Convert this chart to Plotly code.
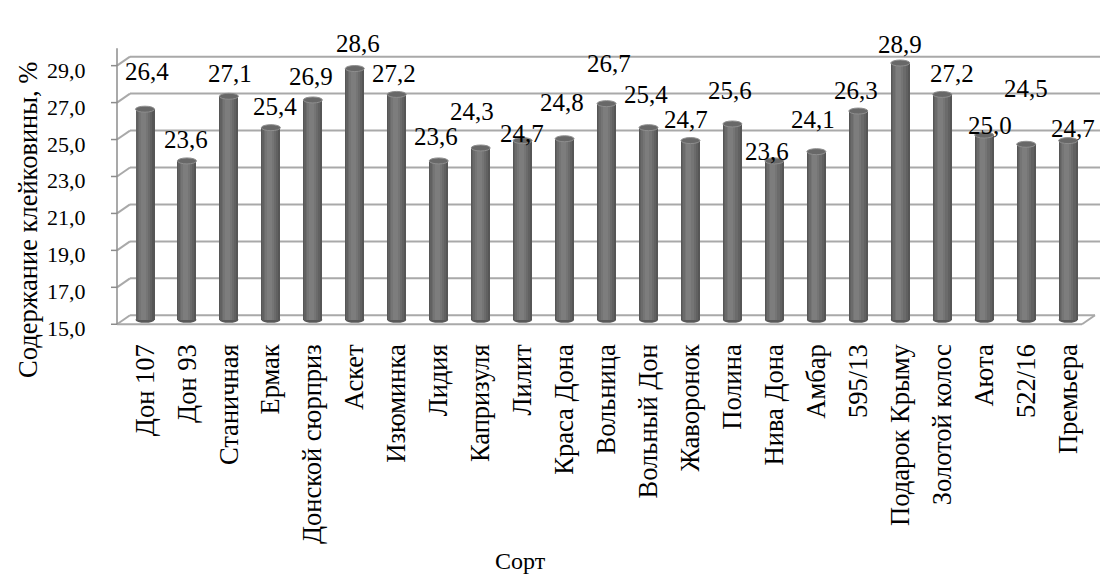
import plotly.graph_objects as go

# Gluten content by wheat variety
categories = [
    "Дон 107", "Дон 93", "Станичная", "Ермак", "Донской сюрприз", "Аскет",
    "Изюминка", "Лидия", "Капризуля", "Лилит", "Краса Дона", "Вольница",
    "Вольный Дон", "Жаворонок", "Полина", "Нива Дона", "Амбар", "595/13",
    "Подарок Крыму", "Золотой колос", "Аюта", "522/16", "Премьера",
]
values = [
    26.4, 23.6, 27.1, 25.4, 26.9, 28.6, 27.2, 23.6, 24.3, 24.7, 24.8, 26.7,
    25.4, 24.7, 25.6, 23.6, 24.1, 26.3, 28.9, 27.2, 25.0, 24.5, 24.7,
]
y_ticks = [15.0, 17.0, 19.0, 21.0, 23.0, 25.0, 27.0, 29.0]

# label placement relative to the top of each cylinder (pixels: right, up)
label_dx = [2, -1, 1, 4, -2, 3, -3, -3, -9, -1, -3, 2, -3, -4, -2, -7, -3, -2, 0, 10, 6, 0, 5]
label_dy = [38, 21, 23, 21, 23, 25, 21, 24, 36, 7.5, 36, 40, 33, 21, 33, 9, 32, 21, 19, 21, 10, 56, 12.5]

FONT = "Times New Roman, Liberation Serif, DejaVu Serif, serif"
W, H = 1103, 575

# pixel geometry of the pseudo-3D box
CAT0_PX, CAT_PX = 145.0, 41.96      # first category centre, spacing
BASE_PX, UNIT_PX = 320.0, 18.5      # y pixel of 15.0 (mid depth), px per unit
DEPTH_X, DEPTH_Y = 6.5, 4.5         # half depth offsets (px)


def xd(px):
    return (px - CAT0_PX) / CAT_PX


def yd(py):
    return 15 + (BASE_PX - py) / UNIT_PX


def ypx(v):
    return BASE_PX - (v - 15) * UNIT_PX


L_PX, R_PX = 100, 1100
Y_LO, Y_HI = 14.5, 30.2
margin_t = ypx(Y_HI)
margin_b = H - ypx(Y_LO)

dxu = DEPTH_X / CAT_PX
dyu = DEPTH_Y / UNIT_PX

fig = go.Figure()

bar_w = 19 / CAT_PX
layers = [
    (1.00, 0.00, "#565656"),
    (0.84, -0.03, "#616161"),
    (0.66, -0.05, "#6b6b6b"),
    (0.46, -0.07, "#757575"),
    (0.26, -0.08, "#7d7d7d"),
]
for frac, shift, col in layers:
    w = bar_w * frac
    fig.add_trace(go.Bar(
        x=categories, y=[v - 15 for v in values], base=15,
        width=w, offset=-w / 2 + shift * bar_w,
        marker=dict(color=col, line=dict(width=0)),
        hoverinfo="skip", showlegend=False,
    ))

shapes = []
grid_col = "#a9a9a9"
left_front = xd(117)
left_back = left_front + 2 * dxu
right_back = xd(1095)
right_front = right_back - 2 * dxu
x_right_edge = xd(1103)

for v in y_ticks:
    # back wall gridline
    shapes.append(dict(type="line", layer="below", xref="x", yref="y",
                       x0=left_back, x1=(right_back if v == 15 else x_right_edge),
                       y0=v + dyu, y1=v + dyu,
                       line=dict(color=grid_col, width=2)))
    # side wall diagonal
    shapes.append(dict(type="line", layer="below", xref="x", yref="y",
                       x0=left_front, x1=left_back, y0=v - dyu, y1=v + dyu,
                       line=dict(color=grid_col, width=2)))
    # tick mark on the value axis
    shapes.append(dict(type="line", layer="below", xref="x", yref="y",
                       x0=xd(111), x1=left_front, y0=v - dyu, y1=v - dyu,
                       line=dict(color="#8c8c8c", width=1.5)))

# floor front edge and right edge
shapes.append(dict(type="line", layer="below", xref="x", yref="y",
                   x0=left_front, x1=right_front, y0=15 - dyu, y1=15 - dyu,
                   line=dict(color=grid_col, width=2)))
shapes.append(dict(type="line", layer="below", xref="x", yref="y",
                   x0=right_front, x1=right_back, y0=15 - dyu, y1=15 + dyu,
                   line=dict(color=grid_col, width=2)))
# value axis line
shapes.append(dict(type="line", layer="below", xref="x", yref="y",
                   x0=left_front, x1=left_front, y0=15 - dyu, y1=yd(48),
                   line=dict(color="#8c8c8c", width=1.5)))

# cylinder caps
cap_rx = bar_w / 2
cap_ry = 3 / UNIT_PX
for i, v in enumerate(values):
    shapes.append(dict(type="circle", layer="below", xref="x", yref="y",
                       x0=i - cap_rx, x1=i + cap_rx, y0=15 - cap_ry, y1=15 + cap_ry,
                       fillcolor="#585858", line=dict(width=0)))
    shapes.append(dict(type="circle", layer="above", xref="x", yref="y",
                       x0=i - cap_rx, x1=i + cap_rx, y0=v - cap_ry, y1=v + cap_ry,
                       fillcolor="#686868", line=dict(color="#8e8e8e", width=1)))

annotations = []
for i, v in enumerate(values):
    annotations.append(dict(
        x=i, y=v, xref="x", yref="y", text=f"{v:.1f}".replace(".", ","),
        showarrow=False, xanchor="center", yanchor="middle",
        xshift=label_dx[i], yshift=label_dy[i],
        font=dict(family=FONT, size=25, color="#000000"),
    ))

for v in y_ticks:
    annotations.append(dict(
        x=(88 - L_PX) / (R_PX - L_PX), y=v, xref="paper", yref="y",
        text=f"{v:.1f}".replace(".", ","), showarrow=False,
        xanchor="right", yanchor="middle", yshift=-9,
        font=dict(family=FONT, size=22, color="#000000"),
    ))

# axis titles
annotations.append(dict(
    x=(28 - L_PX) / (R_PX - L_PX), y=(H - 220 - margin_b) / (H - margin_t - margin_b),
    xref="paper", yref="paper", text="Содержание клейковины, %", textangle=-90,
    showarrow=False, xanchor="center", yanchor="middle",
    font=dict(family=FONT, size=26.5, color="#000000"),
))
annotations.append(dict(
    x=(520 - L_PX) / (R_PX - L_PX), y=(H - 562 - margin_b) / (H - margin_t - margin_b),
    xref="paper", yref="paper", text="Сорт",
    showarrow=False, xanchor="center", yanchor="middle",
    font=dict(family=FONT, size=24, color="#000000"),
))

fig.update_layout(
    width=W, height=H,
    margin=dict(l=L_PX, r=W - R_PX, t=margin_t, b=margin_b, pad=0),
    paper_bgcolor="white", plot_bgcolor="white",
    barmode="overlay", bargap=0,
    shapes=shapes, annotations=annotations,
    showlegend=False,
    font=dict(family=FONT),
    xaxis=dict(
        type="category", range=[xd(L_PX), xd(R_PX)],
        showgrid=False, zeroline=False, showline=False, ticks="",
        tickangle=-90, tickfont=dict(family=FONT, size=26.5, color="#000000"),
        ticklabelstandoff=9,
    ),
    yaxis=dict(
        range=[Y_LO, Y_HI], showgrid=False, zeroline=False, showline=False,
        showticklabels=False, ticks="",
    ),
)

fig.write_html("out.html")
